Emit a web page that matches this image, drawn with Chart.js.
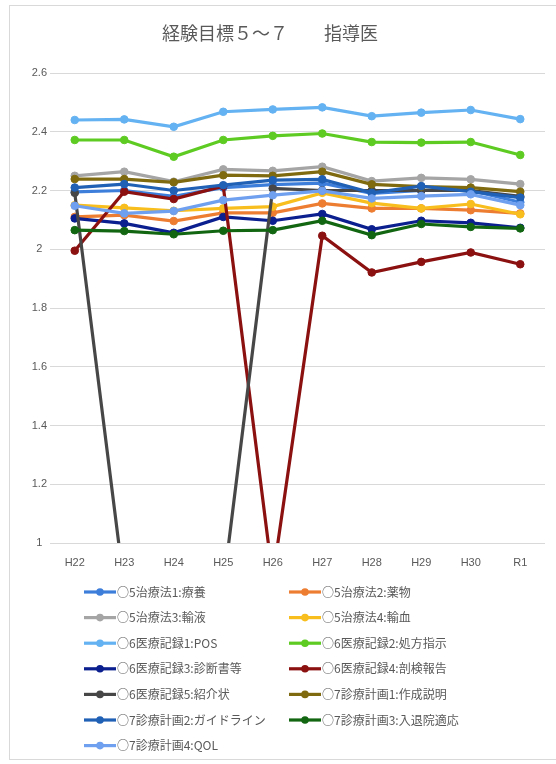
<!DOCTYPE html>
<html lang="ja">
<head>
<meta charset="utf-8">
<title>経験目標5～7 指導医</title>
<script src="https://cdn.jsdelivr.net/npm/chart.js@4/dist/chart.umd.min.js"></script>
<style>
  html, body { margin: 0; padding: 0; background: #fff; }
  #wrap { position: relative; width: 556px; height: 764px; }
</style>
</head>
<body>
<div id="wrap"><canvas id="c" width="556" height="764"></canvas></div>
<script>
// Fiscal years (Heisei 22 .. Reiwa 1)
const years = ['H22', 'H23', 'H24', 'H25', 'H26', 'H27', 'H28', 'H29', 'H30', 'R1'];

// Average scores per item
const ryoyo      = [2.195, 2.200, 2.180, 2.210, 2.220, 2.225, 2.190, 2.200, 2.200, 2.160]; // 5治療法1:療養
const yakubutsu  = [2.110, 2.116, 2.096, 2.124, 2.124, 2.156, 2.139, 2.139, 2.133, 2.122]; // 5治療法2:薬物
const yueki      = [2.250, 2.264, 2.230, 2.272, 2.267, 2.281, 2.232, 2.243, 2.238, 2.222]; // 5治療法3:輸液
const yuketsu    = [2.150, 2.141, 2.131, 2.139, 2.145, 2.192, 2.157, 2.139, 2.154, 2.119]; // 5治療法4:輸血
const pos        = [2.440, 2.442, 2.417, 2.468, 2.476, 2.483, 2.453, 2.465, 2.474, 2.443]; // 6医療記録1:POS
const shoho      = [2.372, 2.372, 2.315, 2.372, 2.386, 2.394, 2.365, 2.363, 2.365, 2.321]; // 6医療記録2:処方指示
const shindansho = [2.105, 2.088, 2.056, 2.110, 2.097, 2.120, 2.068, 2.097, 2.090, 2.073]; // 6医療記録3:診断書等
const boken      = [1.995, 2.196, 2.171, 2.215, 0.880, 2.046, 1.921, 1.957, 1.989, 1.949]; // 6医療記録4:剖検報告
const shokaijo   = [2.192, 0.850, 0.850, 0.850, 2.207, 2.200, 2.200, 2.200, 2.200, 2.180]; // 6医療記録5:紹介状
const sakusei    = [2.239, 2.239, 2.228, 2.252, 2.250, 2.264, 2.221, 2.213, 2.210, 2.196]; // 7診療計画1:作成説明
const guideline  = [2.210, 2.222, 2.200, 2.218, 2.235, 2.238, 2.192, 2.215, 2.196, 2.176]; // 7診療計画2:ガイドライン
const nyutaiin   = [2.065, 2.062, 2.051, 2.063, 2.065, 2.097, 2.048, 2.086, 2.076, 2.071]; // 7診療計画3:入退院適応
const qol        = [2.148, 2.122, 2.130, 2.167, 2.184, 2.199, 2.173, 2.181, 2.187, 2.150]; // 7診療計画4:QOL

const seriesNames = [
  '○5治療法1:療養', '○5治療法2:薬物', '○5治療法3:輸液', '○5治療法4:輸血',
  '○6医療記録1:POS', '○6医療記録2:処方指示', '○6医療記録3:診断書等', '○6医療記録4:剖検報告',
  '○6医療記録5:紹介状', '○7診療計画1:作成説明', '○7診療計画2:ガイドライン', '○7診療計画3:入退院適応',
  '○7診療計画4:QOL'
];
const seriesValues = [ryoyo, yakubutsu, yueki, yuketsu, pos, shoho, shindansho, boken,
                      shokaijo, sakusei, guideline, nyutaiin, qol];
const seriesColors = [
  '#3D7EDB', '#ED7D31', '#A5A5A5', '#F8BE1E', '#64B2F2', '#5DCB22', '#0B1F8F', '#8B1010',
  '#474747', '#7F6A0F', '#2060B5', '#126612', '#6F9FEF'
];

const yMin = 1, yMax = 2.6, yStep = 0.2;
const titleText = '経験目標５～７　　指導医';

const TEXT = '#595959';
const GRID = '#D9D9D9';
const CJK = '"Noto Sans CJK JP", "Noto Sans", sans-serif';
const LATIN = '"Liberation Sans", Arial, sans-serif';

const n = seriesValues.length;
const datasets = seriesValues.map((vals, i) => ({
  label: seriesNames[i],
  data: vals,
  borderColor: seriesColors[i],
  backgroundColor: seriesColors[i],
  pointBackgroundColor: seriesColors[i],
  pointBorderColor: seriesColors[i],
  borderWidth: 3.2,
  pointRadius: 3.8,
  pointBorderWidth: 1,
  tension: 0,
  order: n - 1 - i   // later series drawn on top
}));

// Frame, title and a two-column legend
const decorations = {
  id: 'decorations',
  beforeDraw(chart) {
    const ctx = chart.ctx;
    ctx.save();
    ctx.fillStyle = '#fff';
    ctx.fillRect(0, 0, chart.width, chart.height);
    ctx.strokeStyle = '#D9D9D9';
    ctx.lineWidth = 1;
    ctx.strokeRect(9.5, 5.5, 560, 754);
    ctx.restore();
  },
  afterDraw(chart) {
    const ctx = chart.ctx;
    ctx.save();
    // title
    ctx.fillStyle = TEXT;
    ctx.font = '18px ' + CJK;
    ctx.textAlign = 'center';
    ctx.textBaseline = 'middle';
    ctx.fillText(titleText, 270, 33);

    // legend
    ctx.font = '12px ' + CJK;
    ctx.textAlign = 'left';
    chart.data.datasets.forEach((ds, i) => {
      const col = i % 2, row = Math.floor(i / 2);
      const x0 = col === 0 ? 84 : 289;
      const y = 592 + row * 25.6;
      ctx.strokeStyle = ds.borderColor;
      ctx.lineWidth = 3.2;
      ctx.beginPath();
      ctx.moveTo(x0, y);
      ctx.lineTo(x0 + 32, y);
      ctx.stroke();
      ctx.fillStyle = ds.borderColor;
      ctx.beginPath();
      ctx.arc(x0 + 16, y, 3.8, 0, Math.PI * 2);
      ctx.fill();
      ctx.fillStyle = TEXT;
      ctx.fillText(ds.label, x0 + 33, y);
    });
    ctx.restore();
  }
};

new Chart(document.getElementById('c'), {
  type: 'line',
  data: { labels: years, datasets },
  options: {
    responsive: false,
    animation: false,
    devicePixelRatio: 1,
    events: [],
    layout: { padding: { top: 73, left: 0, right: 11, bottom: 0 } },
    plugins: { legend: { display: false }, title: { display: false }, tooltip: { enabled: false } },
    scales: {
      x: {
        offset: true,
        grid: { display: false, drawTicks: false },
        border: { display: false },
        ticks: { color: TEXT, font: { family: LATIN, size: 11 }, padding: 13, maxRotation: 0, autoSkip: false },
        afterFit(scale) { scale.height = 221; }
      },
      y: {
        min: yMin,
        max: yMax,
        grid: { color: GRID, lineWidth: 1, drawTicks: false },
        border: { display: false },
        ticks: {
          stepSize: yStep,
          color: TEXT,
          font: { family: LATIN, size: 11 },
          padding: 3,
          crossAlign: 'center',
          callback: v => Math.round(v * 10) / 10
        },
        afterFit(scale) { scale.width = 50; }
      }
    }
  },
  plugins: [decorations]
});
</script>
</body>
</html>
